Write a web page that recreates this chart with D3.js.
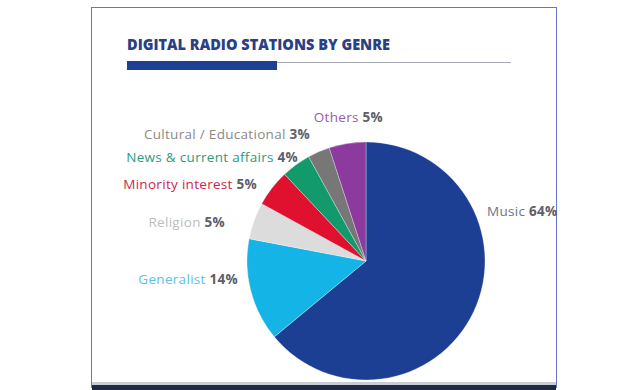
<!DOCTYPE html>
<html>
<head>
<meta charset="utf-8">
<script src="https://cdn.jsdelivr.net/npm/d3@7"></script>
<style>
  body { margin: 0; background: #fff; }
  text { font-family: "Open Sans", sans-serif; }
</style>
</head>
<body>
<svg id="chart" width="638" height="390"></svg>
<script>
// genres in drawing order, clockwise from 12 o'clock
var genres = ["Music", "Generalist", "Religion", "Minority interest",
              "News & current affairs", "Cultural / Educational", "Others"];
var shares = [64, 14, 5, 5, 4, 3, 5];

var sliceColors = ["#1c3f94", "#14b4e6", "#dcdcdc", "#e0112f",
                   "#139a6c", "#777777", "#8c3a9e"];
var nameColors  = ["#6d7486", "#5bc2e7", "#bdbdbd", "#c8284e",
                   "#2a9d7e", "#8a8a8a", "#9a5ba8"];

// where each label sits (x, baseline, anchor)
var labelPos = {
  "Music": [487, 216, "start"],
  "Generalist": [238, 284, "end"],
  "Religion": [225, 227, "end"],
  "Minority interest": [257, 189, "end"],
  "News & current affairs": [298, 162, "end"],
  "Cultural / Educational": [310, 139, "end"],
  "Others": [383, 122, "end"]
};

var svg = d3.select("#chart");

// frame like the slide
svg.append("rect")
    .attr("x", 91.5).attr("y", 7.5)
    .attr("width", 465).attr("height", 380)
    .attr("fill", "#fff")
    .attr("stroke", "#6675c9")
    .attr("stroke-width", 1);

svg.append("rect")
    .attr("x", 92).attr("y", 382)
    .attr("width", 464).attr("height", 3)
    .attr("fill", "#c9ccd2");
svg.append("rect")
    .attr("x", 92).attr("y", 385)
    .attr("width", 464).attr("height", 5)
    .attr("fill", "#1d2a45");

// title
svg.append("text")
    .attr("x", 127)
    .attr("y", 50)
    .attr("font-size", 15.5)
    .attr("font-weight", 800)
    .attr("fill", "#2a3f86")
    .attr("textLength", 263)
    .attr("lengthAdjust", "spacingAndGlyphs")
    .text("DIGITAL RADIO STATIONS BY GENRE");

svg.append("line")
    .attr("x1", 127).attr("x2", 511)
    .attr("y1", 62.5).attr("y2", 62.5)
    .attr("stroke", "#a7abb5")
    .attr("stroke-width", 1);

svg.append("rect")
    .attr("x", 127).attr("y", 61)
    .attr("width", 150).attr("height", 9)
    .attr("fill", "#1f3f94");

// pie
var cx = 366, cy = 261, radius = 119;

var pie = d3.pie()
    .sort(null)
    .value(function(d) { return d; });

var arc = d3.arc()
    .innerRadius(0)
    .outerRadius(radius);

var arcs = pie(shares);

var g = svg.append("g")
    .attr("transform", "translate(" + cx + "," + cy + ")");

g.selectAll("path")
    .data(arcs)
    .enter()
    .append("path")
    .attr("d", arc)
    .attr("fill", function(d, i) { return sliceColors[i]; })
    .attr("stroke", "#fff")
    .attr("stroke-opacity", 0.5)
    .attr("stroke-width", 0.6);

// labels
var labels = svg.selectAll("text.lbl")
    .data(genres)
    .enter()
    .append("text")
    .attr("class", "lbl")
    .attr("x", function(d) { return labelPos[d][0]; })
    .attr("y", function(d) { return labelPos[d][1]; })
    .attr("text-anchor", function(d) { return labelPos[d][2]; })
    .attr("font-size", 13.5)
    .attr("letter-spacing", 0.3);

labels.append("tspan")
    .attr("fill", function(d, i) { return nameColors[i]; })
    .text(function(d) { return d + " "; });

labels.append("tspan")
    .attr("fill", "#5e6068")
    .attr("font-weight", 700)
    .text(function(d, i) { return shares[i] + "%"; });
</script>
</body>
</html>
